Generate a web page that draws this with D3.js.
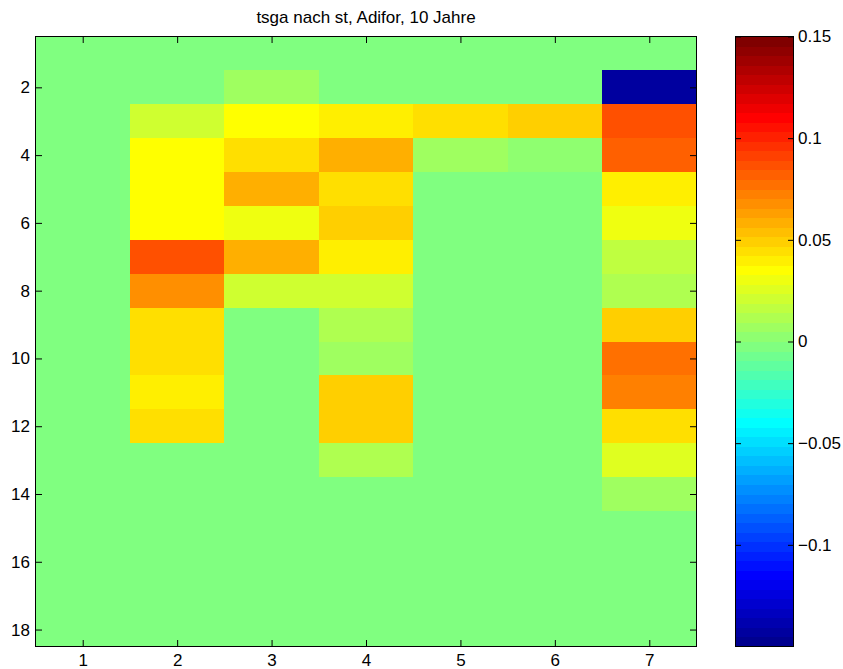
<!DOCTYPE html>
<html>
<head>
<meta charset="utf-8">
<script src="https://cdn.jsdelivr.net/npm/d3@7"></script>
<style>
  html, body { margin: 0; padding: 0; background: #fff; }
  svg text { font-family: "Liberation Sans", Arial, Helvetica, sans-serif; fill: #000; }
</style>
</head>
<body>
<svg id="chart" width="843" height="669"></svg>
<script>
// Column and row indices of the matrix
const columns = [1, 2, 3, 4, 5, 6, 7];
const rowCount = 18;

// Matrix values, one array per row (row 1 first), 7 columns each
const row01 = [0, 0,     0,     0,     0,     0,     0];
const row02 = [0, 0,     0.007, 0,     0,     0,     -0.143];
const row03 = [0, 0.021, 0.035, 0.040, 0.045, 0.049, 0.087];
const row04 = [0, 0.035, 0.045, 0.059, 0.007, 0.002, 0.082];
const row05 = [0, 0.035, 0.059, 0.045, 0,     0,     0.040];
const row06 = [0, 0.035, 0.030, 0.049, 0,     0,     0.030];
const row07 = [0, 0.087, 0.059, 0.040, 0,     0,     0.016];
const row08 = [0, 0.068, 0.021, 0.021, 0,     0,     0.012];
const row09 = [0, 0.045, 0,     0.012, 0,     0,     0.049];
const row10 = [0, 0.045, 0,     0.007, 0,     0,     0.077];
const row11 = [0, 0.040, 0,     0.049, 0,     0,     0.073];
const row12 = [0, 0.045, 0,     0.049, 0,     0,     0.045];
const row13 = [0, 0,     0,     0.012, 0,     0,     0.026];
const row14 = [0, 0,     0,     0,     0,     0,     0.007];
const row15 = [0, 0,     0,     0,     0,     0,     0];
const row16 = [0, 0,     0,     0,     0,     0,     0];
const row17 = [0, 0,     0,     0,     0,     0,     0];
const row18 = [0, 0,     0,     0,     0,     0,     0];
const matrix = [row01, row02, row03, row04, row05, row06, row07, row08, row09,
                row10, row11, row12, row13, row14, row15, row16, row17, row18];

// Axis tick labels
const xTicks = [1, 2, 3, 4, 5, 6, 7];
const yTicks = [2, 4, 6, 8, 10, 12, 14, 16, 18];
const colorTicks = [-0.1, -0.05, 0, 0.05, 0.1, 0.15];
const colorLimits = [-0.15, 0.15];
const title = "tsga nach st, Adifor, 10 Jahre";

// 64-entry jet colormap
const nColors = 64;
function jetColor(i) { // i: 1..64
  const n = 16;
  const u = k => (k >= 1 && k <= 16) ? k / n : (k >= 17 && k <= 31) ? 1 : (k >= 32 && k <= 47) ? (48 - k) / n : 0;
  const r = u(i - 24), g = u(i - 8), b = u(i + 8);
  return d3.rgb(Math.round(r * 255), Math.round(g * 255), Math.round(b * 255)).toString();
}
const jet = d3.range(1, nColors + 1).map(jetColor);
const frac = d3.scaleLinear().domain(colorLimits).range([0, nColors]);
function colorOf(v) {
  const idx = Math.max(0, Math.min(nColors - 1, Math.ceil(frac(v)) - 1));
  return jet[idx];
}

const svg = d3.select("#chart");
svg.append("rect").attr("width", 843).attr("height", 669).attr("fill", "#fff");

const plot = { left: 35.5, right: 696.5, top: 36.5, bottom: 646.5 };
const x = d3.scaleLinear().domain([0.5, columns.length + 0.5]).range([plot.left, plot.right]);
const y = d3.scaleLinear().domain([0.5, rowCount + 0.5]).range([plot.top, plot.bottom]);

// Heatmap cells
const cells = [];
matrix.forEach((row, ri) => row.forEach((v, ci) => cells.push({ r: ri + 1, c: columns[ci], v })));
svg.append("g").attr("shape-rendering", "crispEdges")
  .selectAll("rect").data(cells).join("rect")
  .attr("x", d => x(d.c - 0.5))
  .attr("y", d => y(d.r - 0.5))
  .attr("width", d => x(d.c + 0.5) - x(d.c - 0.5) + 0.5)
  .attr("height", d => y(d.r + 0.5) - y(d.r - 0.5) + 0.5)
  .attr("fill", d => colorOf(d.v));

// Axes: ticks point inward, mirrored on the opposite sides
const tickLen = 6.5;
const fontSize = 17;
const intFmt = d3.format("d");
const xAxisBottom = d3.axisBottom(x).tickValues(xTicks).tickFormat(intFmt).tickSizeInner(-tickLen).tickSizeOuter(0).tickPadding(7.5);
const xAxisTop = d3.axisTop(x).tickValues(xTicks).tickSizeInner(-tickLen).tickSizeOuter(0).tickFormat("");
const yAxisLeft = d3.axisLeft(y).tickValues(yTicks).tickFormat(intFmt).tickSizeInner(-tickLen).tickSizeOuter(0).tickPadding(5.5);
const yAxisRight = d3.axisRight(y).tickValues(yTicks).tickSizeInner(-tickLen).tickSizeOuter(0).tickFormat("");

function styleAxis(g) {
  g.select(".domain").remove();
  g.selectAll("line").attr("stroke", "#000").attr("stroke-width", 1);
  g.selectAll("text").attr("font-size", fontSize).attr("fill", "#000");
  g.attr("font-family", null);
}
svg.append("g").attr("transform", `translate(0,${plot.bottom})`).call(xAxisBottom).call(styleAxis);
svg.append("g").attr("transform", `translate(0,${plot.top})`).call(xAxisTop).call(styleAxis);
svg.append("g").attr("transform", `translate(${plot.left},0)`).call(yAxisLeft).call(styleAxis);
svg.append("g").attr("transform", `translate(${plot.right},0)`).call(yAxisRight).call(styleAxis);

svg.append("rect")
  .attr("x", plot.left).attr("y", plot.top)
  .attr("width", plot.right - plot.left).attr("height", plot.bottom - plot.top)
  .attr("fill", "none").attr("stroke", "#000").attr("stroke-width", 1);

// Title
svg.append("text")
  .attr("x", (plot.left + plot.right) / 2).attr("y", 23)
  .attr("text-anchor", "middle").attr("font-size", fontSize)
  .text(title);

// Colorbar
const cb = { left: 735.5, right: 793.5, top: plot.top, bottom: plot.bottom };
const cy = d3.scaleLinear().domain(colorLimits).range([cb.bottom, cb.top]);
const bandStep = (colorLimits[1] - colorLimits[0]) / nColors;
svg.append("g").attr("shape-rendering", "crispEdges")
  .selectAll("rect").data(jet).join("rect")
  .attr("x", cb.left)
  .attr("width", cb.right - cb.left)
  .attr("y", (d, i) => cy(colorLimits[0] + (i + 1) * bandStep))
  .attr("height", (d, i) => cy(colorLimits[0] + i * bandStep) - cy(colorLimits[0] + (i + 1) * bandStep) + 0.5)
  .attr("fill", d => d);

const fmt = v => (v < 0 ? "\u2212" : "") + d3.format("~g")(Math.abs(v));
const cbTickLen = 5.5;
svg.append("g").attr("transform", `translate(${cb.right},0)`)
  .call(d3.axisRight(cy).tickValues(colorTicks).tickSizeInner(-cbTickLen).tickSizeOuter(0).tickPadding(4.5).tickFormat(fmt))
  .call(styleAxis);
svg.append("g").attr("transform", `translate(${cb.left},0)`)
  .call(d3.axisLeft(cy).tickValues(colorTicks).tickSizeInner(-cbTickLen).tickSizeOuter(0).tickFormat(""))
  .call(styleAxis);
svg.append("rect")
  .attr("x", cb.left).attr("y", cb.top)
  .attr("width", cb.right - cb.left).attr("height", cb.bottom - cb.top)
  .attr("fill", "none").attr("stroke", "#000").attr("stroke-width", 1);
</script>
</body>
</html>
